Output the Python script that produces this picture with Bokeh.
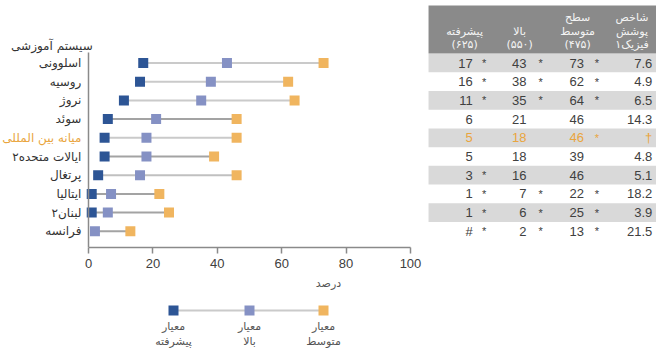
from bokeh.plotting import figure
from bokeh.models import Range1d, FixedTicker, ColumnDataSource
from bokeh.layouts import column
from bokeh.embed import file_html
from bokeh.resources import INLINE
from bokeh.core.properties import value

# ---------------- data ----------------
systems = ["اسلوونی", "روسیه", "نروژ", "سوئد", "میانه بین المللی",
           "ایالات متحده۲", "پرتغال", "ایتالیا", "لبنان۲", "فرانسه"]
advanced = [17, 16, 11, 6, 5, 5, 3, 1, 1, None]
high = [43, 38, 35, 21, 18, 18, 16, 7, 6, 2]
intermediate = [73, 62, 64, 46, 46, 39, 46, 22, 25, 13]
advanced_txt = ["17", "16", "11", "6", "5", "5", "3", "1", "1", "#"]
high_txt = ["43", "38", "35", "21", "18", "18", "16", "7", "6", "2"]
inter_txt = ["73", "62", "64", "46", "46", "39", "46", "22", "25", "13"]
adv_sig = [1, 1, 1, 0, 0, 0, 1, 1, 1, 1]
high_sig = [1, 1, 1, 0, 0, 0, 0, 1, 1, 1]
inter_sig = [1, 1, 1, 0, 1, 0, 0, 1, 1, 1]
coverage = ["7.6", "4.9", "6.5", "14.3", "†", "4.8", "5.1", "18.2", "3.9", "21.5"]
x_ticks = [0, 20, 40, 60, 80, 100]
title_txt = "سیستم آموزشی"
x_label = "درصد"
header_adv = ["پیشرفته", "(۶۲۵)"]
header_high = ["بالا", "(۵۵۰)"]
header_inter = ["سطح", "متوسط", "(۴۷۵)"]
header_cov = ["شاخص", "پوشش", "فیزیک۱"]
legend_top = ["معیار", "معیار", "معیار"]
legend_bottom = ["پیشرفته", "بالا", "متوسط"]
INTL = 4  # index of the international median row

# ---------------- styles ----------------
C_ADV = "#2d5595"
C_HIGH = "#8591c4"
C_INT = "#f0b55f"
C_ORANGE = "#e9a53e"
C_TXT = "#404040"
line_cols = ["#cacaca", "#cacaca", "#cacaca", "#a3a3a3", "#cacaca",
             "#a3a3a3", "#c0c0c0", "#a3a3a3", "#a3a3a3", "#a3a3a3"]
PF = "DejaVu Sans"
NF = "Liberation Sans"

rows = list(range(1, len(systems) + 1))
PXU = 3.22           # pixels per percent
X0_PX = 88           # canvas px of x = 0
W = 656
X_START = -X0_PX / PXU
X_END = (W - X0_PX) / PXU
ROW_PX = 18.7
ROW1_PX = 62.5       # canvas y of row 1
TOP_PX = 5
BOT_PX = 247
Y_TOP = 1 + (TOP_PX - ROW1_PX) / ROW_PX
Y_BOT = 1 + (BOT_PX - ROW1_PX) / ROW_PX
HA = 300

pA = figure(width=W, height=HA, output_backend="svg", toolbar_location=None,
            x_range=Range1d(X_START, X_END), y_range=Range1d(Y_BOT, Y_TOP),
            min_border_left=0, min_border_right=0, min_border_top=TOP_PX,
            min_border_bottom=HA - BOT_PX)
pA.outline_line_color = None
pA.grid.grid_line_color = None

# x axis
xa = pA.xaxis[0]
xa.ticker = FixedTicker(ticks=x_ticks)
xa.bounds = (0, 100)
xa.axis_line_color = "#8a8a8a"
xa.axis_line_width = 1.5
xa.major_tick_line_color = "#8a8a8a"
xa.major_tick_line_width = 1.5
xa.major_tick_out = 6
xa.major_tick_in = 0
xa.minor_tick_line_color = None
xa.major_label_text_font = NF
xa.major_label_text_font_size = "13px"
xa.major_label_text_color = C_TXT
xa.major_label_standoff = 5
xa.axis_label = x_label
xa.axis_label_text_font = PF
xa.axis_label_text_font_size = "11px"
xa.axis_label_text_font_style = "normal"
xa.axis_label_text_color = "#555555"
xa.axis_label_standoff = 6

# y axis: line only, fixed at x = 0
ya = pA.yaxis[0]
ya.fixed_location = 0
ya.ticker = FixedTicker(ticks=[])
ya.bounds = (0.44, Y_BOT)
ya.axis_line_color = "#8a8a8a"
ya.axis_line_width = 1.5
ya.major_tick_line_color = None
ya.minor_tick_line_color = None
ya.major_label_text_font_size = "0px"

# row labels and title
lab_cols = [C_ORANGE if i == INTL else "#333333" for i in range(len(rows))]
pA.text(x=[-2.2] * len(rows), y=rows, text=systems, text_color=lab_cols,
        text_align="right", text_baseline="middle", text_font=value(PF),
        text_font_size="12px")
pA.text(x=[1.3], y=[1 + (45 - ROW1_PX) / ROW_PX], text=[title_txt], text_color="#333333",
        text_align="right", text_baseline="middle", text_font=value(PF),
        text_font_size="12px")

# table backgrounds
TL = 105.6
band_rows = [r for r in rows if r % 2 == 1]
pA.quad(left=TL, right=X_END + 5, top=[r - 0.5 for r in band_rows],
        bottom=[r + 0.5 for r in band_rows], fill_color="#d9d9d9", line_color=None)
pA.quad(left=TL, right=X_END + 5, top=Y_TOP - 1, bottom=0.49,
        fill_color="#8a8a8a", line_color=None)

# dumbbells
starts = [a if a is not None else h for a, h in zip(advanced, high)]
pA.segment(x0=starts, y0=rows, x1=intermediate, y1=rows, line_color=line_cols,
           line_width=2)
adv_rows = [r for r, a in zip(rows, advanced) if a is not None]
adv_vals = [a for a in advanced if a is not None]
pA.scatter(x=intermediate, y=rows, marker="square", size=10, fill_color=C_INT,
           line_color=None)
pA.scatter(x=high, y=rows, marker="square", size=10, fill_color=C_HIGH,
           line_color=None)
pA.scatter(x=adv_vals, y=adv_rows, marker="square", size=10, fill_color=C_ADV,
           line_color=None)

# table texts
txt_cols = [C_ORANGE if i == INTL else C_TXT for i in range(len(rows))]
def col_text(xpos, texts, align):
    src = ColumnDataSource(dict(x=[xpos] * len(rows), y=rows, t=texts, c=txt_cols))
    pA.text(x="x", y="y", text="t", text_color="c", source=src, text_align=align,
            text_baseline="middle", text_font=value(NF), text_font_size="13px")

def star_text(xpos, sig):
    rr = [r for r, s in zip(rows, sig) if s]
    cc = [txt_cols[r - 1] for r in rr]
    src = ColumnDataSource(dict(x=[xpos] * len(rr), y=rr, t=["*"] * len(rr), c=cc))
    pA.text(x="x", y="y", text="t", text_color="c", source=src, text_align="center",
            text_baseline="middle", text_font=value(NF), text_font_size="11px")

col_text(119.3, advanced_txt, "right")
star_text(122.9, adv_sig)
col_text(136.0, high_txt, "right")
star_text(140.4, high_sig)
col_text(153.9, inter_txt, "right")
star_text(157.9, inter_sig)
col_text(175.1, coverage, "right")

# header texts
hdr_y3 = [1 + (py - ROW1_PX) / ROW_PX for py in (17, 31, 44)]
def header(xpos, lines, align="center"):
    ys = hdr_y3[3 - len(lines):]
    pA.text(x=[xpos] * len(lines), y=ys, text=lines, text_align=align,
            text_baseline="middle", text_color="#f4f4f4", text_font=value(PF),
            text_font_size="11px")

header(116.8, header_adv)
header(133.9, header_high)
header(151.9, header_inter)
header(168.8, header_cov)

# ---------------- legend figure ----------------
HB = 56
pB = figure(width=W, height=HB, output_backend="svg", toolbar_location=None,
            x_range=Range1d(0, W), y_range=Range1d(HB, 0),
            min_border=0, x_axis_type=None, y_axis_type=None)
pB.outline_line_color = None
pB.grid.grid_line_color = None
lx = [173, 249, 323]
ly = 10
pB.segment(x0=lx[0], y0=ly, x1=lx[-1], y1=ly, line_color="#cacaca", line_width=2)
pB.scatter(x=lx, y=[ly] * 3, marker="square", size=10,
           fill_color=[C_ADV, C_HIGH, C_INT], line_color=None)
pB.text(x=lx, y=[26] * 3, text=legend_top, text_align="center", text_baseline="middle",
        text_font=value(PF), text_font_size="11px", text_color="#555555")
pB.text(x=lx, y=[41] * 3, text=legend_bottom, text_align="center", text_baseline="middle",
        text_font=value(PF), text_font_size="11px", text_color="#555555")

layout = column(pA, pB, spacing=0)
open("out.html", "w").write(file_html(layout, INLINE))
